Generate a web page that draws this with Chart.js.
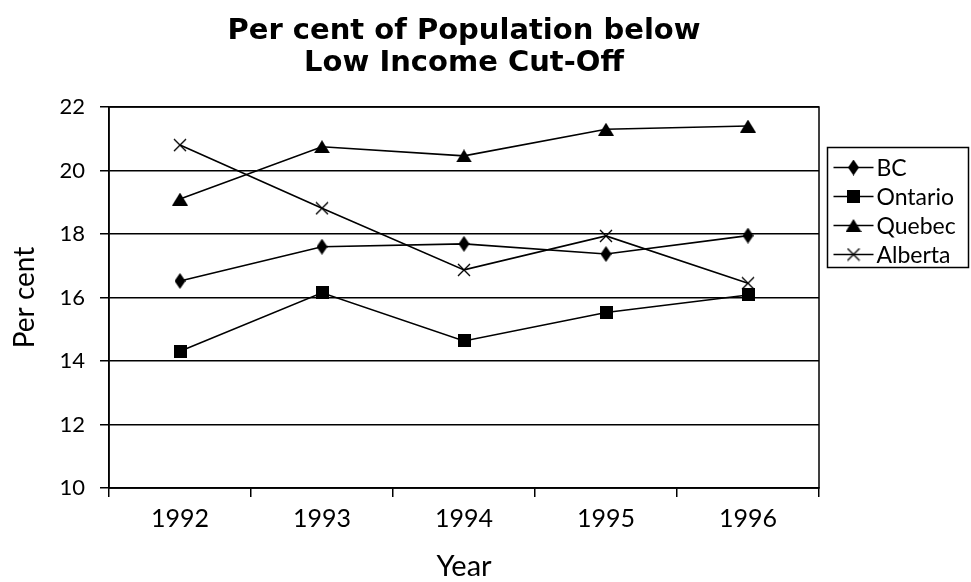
<!DOCTYPE html>
<html>
<head>
<meta charset="utf-8">
<script src="https://cdn.jsdelivr.net/npm/chart.js@4.4.1/dist/chart.umd.min.js"></script>
<style>
  html, body { margin: 0; padding: 0; background: #fff; }
  #wrap { width: 971px; height: 582px; }
</style>
</head>
<body>
<div id="wrap"><canvas id="lowIncomeChart" width="971" height="582"></canvas></div>
<script>
// data
const years = ['1992', '1993', '1994', '1995', '1996'];
const bcValues = [16.52, 17.60, 17.69, 17.37, 17.95];
const ontarioValues = [14.31, 16.15, 14.63, 15.53, 16.08];
const quebecValues = [19.10, 20.75, 20.46, 21.30, 21.40];
const albertaValues = [20.80, 18.81, 16.87, 17.94, 16.45];
const seriesNames = ['BC', 'Ontario', 'Quebec', 'Alberta'];
const yTicks = [10, 12, 14, 16, 18, 20, 22];

const FONT = "'Lato', 'DejaVu Sans', sans-serif";
const TITLE_FONT = "'DejaVu Sans', 'Lato', sans-serif";

// little canvases used as point markers
function makeMarker(w, h, draw) {
    const c = document.createElement('canvas');
    c.width = w;
    c.height = h;
    const g = c.getContext('2d');
    g.fillStyle = '#000';
    g.strokeStyle = '#000';
    draw(g, w, h);
    return c;
}

const diamond = makeMarker(11, 16, (g, w, h) => {
    g.beginPath();
    g.moveTo(w / 2, 0);
    g.lineTo(w, h / 2);
    g.lineTo(w / 2, h);
    g.lineTo(0, h / 2);
    g.closePath();
    g.fill();
});
const square = makeMarker(13, 13, (g, w, h) => {
    g.fillRect(0, 0, w, h);
});
const triangle = makeMarker(16, 13, (g, w, h) => {
    g.beginPath();
    g.moveTo(w / 2, 0);
    g.lineTo(w, h);
    g.lineTo(0, h);
    g.closePath();
    g.fill();
});
const cross = makeMarker(14, 14, (g, w, h) => {
    g.lineWidth = 1.4;
    g.beginPath();
    g.moveTo(1, 1);
    g.lineTo(w - 1, h - 1);
    g.moveTo(w - 1, 1);
    g.lineTo(1, h - 1);
    g.stroke();
});

function series(label, values, marker) {
    return {
        label: label,
        data: values,
        borderColor: '#000',
        backgroundColor: '#000',
        borderWidth: 1.6,
        pointStyle: marker,
        pointRadius: 7,
        pointHoverRadius: 7,
        tension: 0
    };
}

// frame round the plot area
const plotFrame = {
    id: 'plotFrame',
    beforeDatasetsDraw(chart) {
        const a = chart.chartArea;
        const ctx = chart.ctx;
        ctx.save();
        ctx.strokeStyle = '#000';
        ctx.lineWidth = 1.5;
        ctx.strokeRect(a.left, a.top, a.right - a.left, a.bottom - a.top);
        ctx.restore();
    }
};

// legend box on the right, line + marker + name
const legendBox = {
    id: 'legendBox',
    afterDraw(chart) {
        const ctx = chart.ctx;
        const x0 = chart.chartArea.right + 8.5;
        const y0 = 147.5;
        ctx.save();
        ctx.strokeStyle = '#000';
        ctx.lineWidth = 1.5;
        ctx.strokeRect(x0, y0, 141, 120);
        ctx.font = '23px ' + FONT;
        ctx.textBaseline = 'middle';
        ctx.fillStyle = '#000';
        chart.data.datasets.forEach((ds, i) => {
            const y = y0 + 20 + i * 29;
            ctx.lineWidth = 1.6;
            ctx.beginPath();
            ctx.moveTo(x0 + 6, y);
            ctx.lineTo(x0 + 46, y);
            ctx.stroke();
            const m = ds.pointStyle;
            ctx.drawImage(m, x0 + 26 - m.width / 2, y - m.height / 2);
            ctx.fillText(ds.label, x0 + 49, y + 1);
        });
        ctx.restore();
    }
};

const ctx = document.getElementById('lowIncomeChart').getContext('2d');
const lowIncomeChart = new Chart(ctx, {
    type: 'line',
    data: {
        labels: years,
        datasets: [
            series(seriesNames[0], bcValues, diamond),
            series(seriesNames[1], ontarioValues, square),
            series(seriesNames[2], quebecValues, triangle),
            series(seriesNames[3], albertaValues, cross)
        ]
    },
    options: {
        responsive: false,
        animation: false,
        layout: {
            padding: { left: 0, right: 152, top: 0, bottom: 0 }
        },
        plugins: {
            legend: { display: false },
            tooltip: { enabled: false },
            title: {
                display: true,
                fullSize: false,
                text: ['Per cent of Population below', 'Low Income Cut-Off'],
                color: '#000',
                font: { family: TITLE_FONT, size: 29, weight: 'bold', lineHeight: '32px' },
                padding: { top: 15, bottom: 28 }
            }
        },
        scales: {
            x: {
                type: 'category',
                offset: true,
                grid: {
                    offset: true,
                    drawOnChartArea: false,
                    drawTicks: true,
                    tickLength: 9,
                    color: '#000',
                    lineWidth: 1.5
                },
                border: { display: true, color: '#000', width: 1.5 },
                ticks: {
                    color: '#000',
                    padding: 7,
                    maxRotation: 0,
                    font: { family: FONT, size: 25 }
                },
                title: {
                    display: true,
                    text: 'Year',
                    color: '#000',
                    font: { family: FONT, size: 29, lineHeight: 1 },
                    padding: { top: 0, bottom: 1 }
                },
                afterFit(scale) { scale.height = 94; }
            },
            y: {
                min: 10,
                max: 22,
                afterBuildTicks(scale) {
                    scale.ticks = yTicks.map(v => ({ value: v }));
                },
                grid: {
                    color: '#000',
                    lineWidth: 1.5,
                    drawTicks: true,
                    tickLength: 9
                },
                border: { display: true, color: '#000', width: 1.5 },
                ticks: {
                    color: '#000',
                    padding: 15,
                    font: { family: FONT, size: 22 }
                },
                title: {
                    display: true,
                    text: 'Per cent',
                    color: '#000',
                    font: { family: FONT, size: 28, lineHeight: 1 },
                    padding: { top: 11, bottom: 0 }
                },
                afterFit(scale) { scale.width = 109; }
            }
        }
    },
    plugins: [plotFrame, legendBox]
});
</script>
</body>
</html>
